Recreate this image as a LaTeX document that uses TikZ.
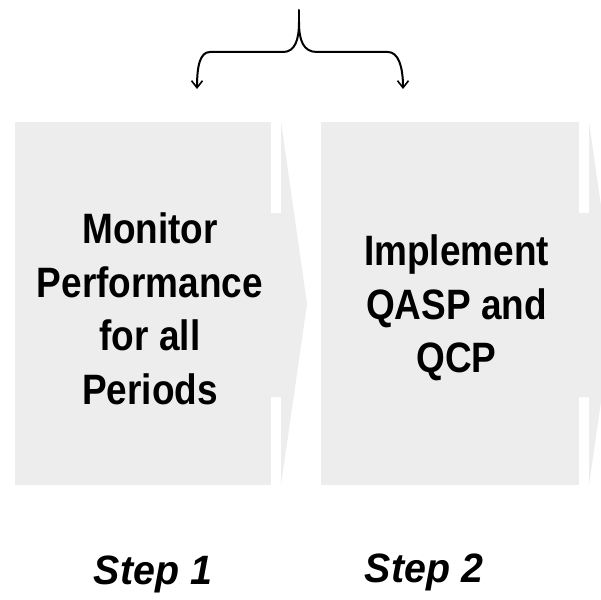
\documentclass[tikz,border=0pt]{standalone}
\usepackage{fontspec}
\setmainfont{Liberation Sans}
\newfontfamily\boxfont[FakeStretch=0.87]{Liberation Sans}
\newfontfamily\stepfont[FakeStretch=0.96]{Liberation Sans}
\usetikzlibrary{arrows.meta}
\definecolor{boxgray}{HTML}{EDEDED}
\tikzset{
  chev/.style={fill=boxgray, draw=none},
  boxtext/.style={font=\boxfont\bfseries\fontsize{42.5}{53.5}\selectfont, align=center, text=black, inner sep=0pt},
  steptext/.style={font=\stepfont\bfseries\itshape\fontsize{41}{48}\selectfont, text=black, anchor=base, inner sep=0pt},
  bracelines/.style={line width=2pt, line cap=round, -{Straight Barb[length=7pt,width=11pt,line width=1.6pt]}}
}
\begin{document}
\begin{tikzpicture}[x=1pt,y=-1pt]
\useasboundingbox (0,0) rectangle (601,599);
\fill[white] (0,0) rectangle (601,599);
% chevron 1
\fill[chev] (15,122) rectangle (271,485);
\fill[chev] (271,213) -- (281,213) -- (281,122) -- (307,304) -- (281,485) -- (281,397) -- (271,397) -- cycle;
% chevron 2
\fill[chev] (321,122) rectangle (579,485);
\fill[chev] (579,213) -- (589,213) -- (589,122) -- (615,304) -- (589,485) -- (589,397) -- (579,397) -- cycle;
% texts
\node[boxtext] (t1) at (150,309) {Monitor\\Performance\\for all\\Periods};
\node[boxtext] (t2) at (456.5,308) {Implement\\QASP and\\QCP};
\node[steptext] (s1) at (153,584) {Step 1};
\node[steptext] (s2) at (424,582) {Step 2};
% brace
\coordinate (top) at (299,10);
\coordinate (mid) at (299,22);
\coordinate (la) at (197,89);
\coordinate (ra) at (403,89);
\draw[line width=2pt, line cap=round] (top) -- (mid);
\draw[bracelines] (mid) .. controls (299,40) and (295,52) .. (283,52) -- (210,52) .. controls (200,52) and (197,66) .. (la);
\draw[bracelines] (mid) .. controls (299,40) and (303,52) .. (317,52) -- (388,52) .. controls (398,52) and (403,66) .. (ra);
\end{tikzpicture}
\end{document}
